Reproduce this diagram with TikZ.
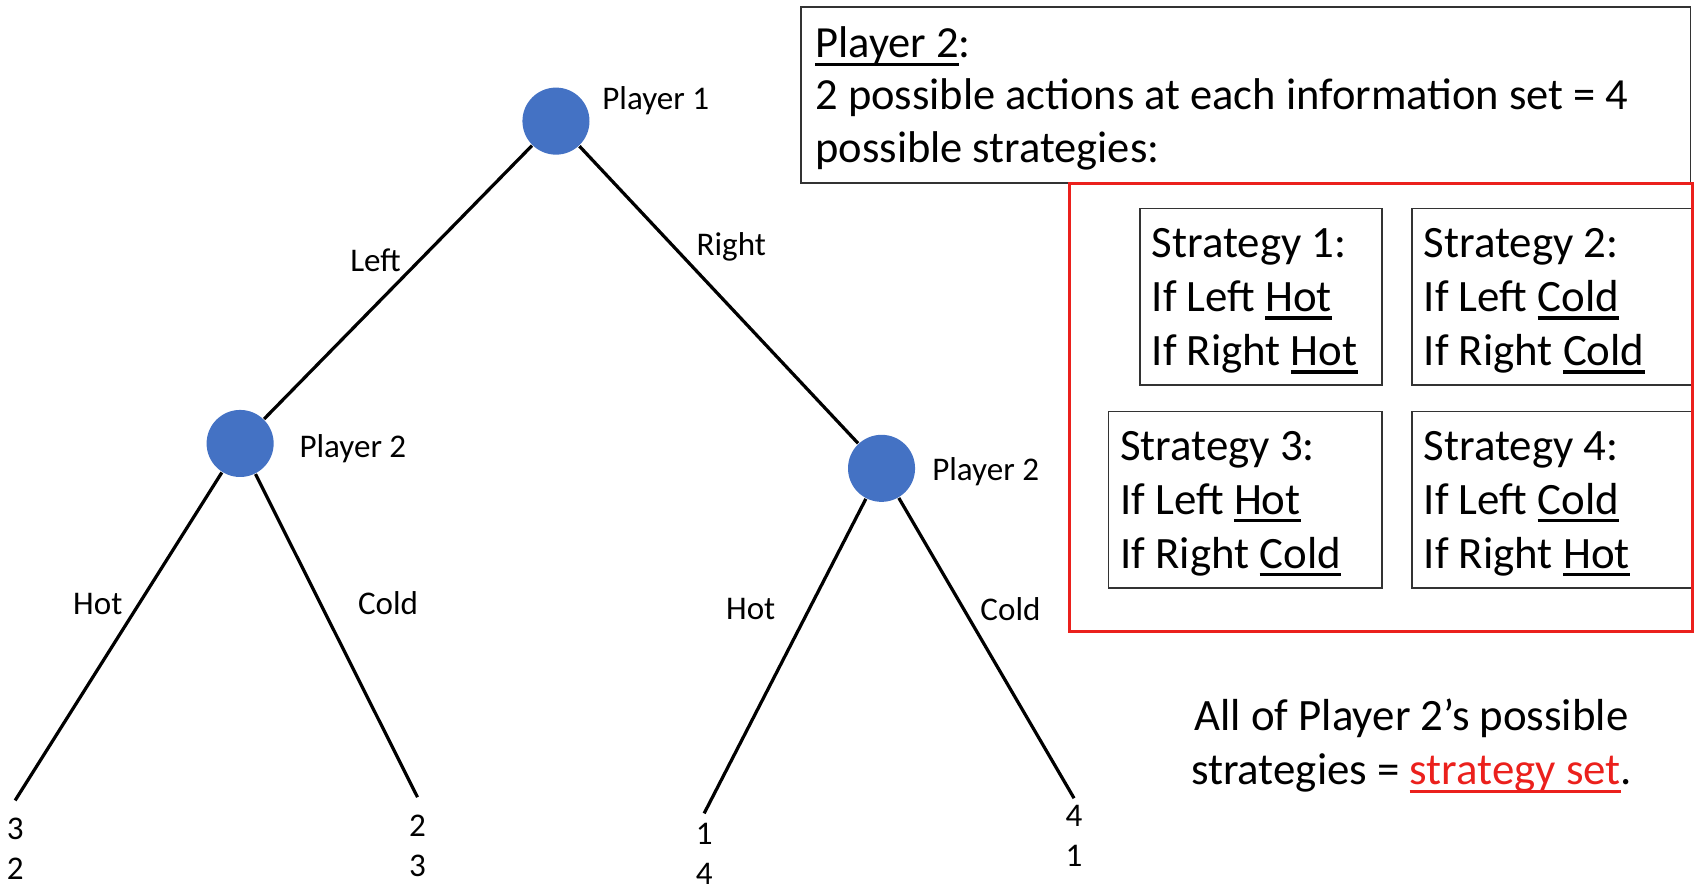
\documentclass[tikz,border=0pt]{standalone}
\usepackage{fontspec}
\setmainfont{Carlito}
\usetikzlibrary{positioning}
\definecolor{nodeblue}{RGB}{68,114,196}
\definecolor{setred}{RGB}{235,32,28}
% underline drawn as a rule under the word
\newcommand{\uln}[1]{\setbox0\hbox{#1}\rlap{\vrule height -1.4pt depth 2.2pt width \wd0}\box0}

\begin{document}
\begin{tikzpicture}[
        player/.style={circle, fill=nodeblue, minimum size=6.2mm, inner sep=0pt},
        lbl/.style={font=\fontsize{8.7}{10.5}\selectfont, inner sep=1pt},
        payoff/.style={font=\fontsize{8.7}{10.5}\selectfont, align=center, inner sep=1pt},
        branch/.style={line width=0.85pt},
        infobox/.style={draw=black!80, line width=0.5pt, align=flush left, anchor=north west,
            font=\fontsize{11.7}{13.8}\selectfont, inner xsep=0.13cm, inner ysep=0pt},
        stratbox/.style={draw=black!80, line width=0.45pt, align=flush left, anchor=north west,
            font=\fontsize{11.8}{14.2}\selectfont, inner xsep=0.11cm, inner ysep=0pt,
            text height=0.45cm, text depth=1.18cm}
    ]
        \useasboundingbox (0,0) rectangle (15.68,-8.21);

        % game tree
        \node [player] (p1) at (5.14,-1.12) {};
        \node [player] (p2l) at (2.22,-4.10) {};
        \node [player] (p2r) at (8.15,-4.33) {};
        \node [lbl, right=0.07cm of p1.east, yshift=0.19cm] (p1lbl) {Player 1};
        \node [lbl, right=0.19cm of p2l.east, yshift=-0.05cm] (p2llbl) {Player 2};
        \node [lbl, right=0.11cm of p2r.east, yshift=-0.03cm] (p2rlbl) {Player 2};

        \coordinate (l1) at (0.14,-7.40);
        \coordinate (l2) at (3.86,-7.37);
        \coordinate (l3) at (6.51,-7.52);
        \coordinate (l4) at (9.93,-7.38);

        \draw [branch] (p1) -- node[lbl, pos=.42, left=3.5pt] {Left} (p2l);
        \draw [branch] (p1) -- node[lbl, pos=.34, right=4.5pt] {Right} (p2r);
        \draw [branch] (p2l) -- node[lbl, pos=.40, left=3pt] {Hot} (l1);
        \draw [branch] (p2l) -- node[lbl, pos=.40, right=8.5pt] {Cold} (l2);
        \draw [branch] (p2r) -- node[lbl, pos=.35, left=7.5pt] {Hot} (l3);
        \draw [branch] (p2r) -- node[lbl, pos=.37, right=3pt] {Cold} (l4);

        \node [payoff, below=0.12cm of l1] (u1) {3\\2};
        \node [payoff, below=0.12cm of l2] (u2) {2\\3};
        \node [payoff, below=0.05cm of l3] (u3) {1\\4};
        \node [payoff, below=0.02cm of l4] (u4) {4\\1};

        % strategies of player 2
        \node [infobox, text width=7.96cm, text height=0.46cm, text depth=1.16cm] (info) at (7.40,-0.06)
            {\uln{Player 2}:\\2 possible actions at each information set = 4\\possible strategies:};
        \node [stratbox, text width=2.02cm] (s1) at (10.53,-1.92)
            {Strategy 1:\\If Left \uln{Hot}\\If Right \uln{Hot}};
        \node [stratbox, text width=2.37cm, right=0.26cm of s1.north east, anchor=north west] (s2)
            {Strategy 2:\\If Left \uln{Cold}\\If Right \uln{Cold}};
        \node [stratbox, text width=2.31cm, below=0.23cm of s1.south east, anchor=north east] (s3)
            {Strategy 3:\\If Left \uln{Hot}\\If Right \uln{Cold}};
        \node [stratbox, text width=2.38cm, below=0.23cm of s2.south west, anchor=north west] (s4)
            {Strategy 4:\\If Left \uln{Cold}\\If Right \uln{Hot}};
        \node [draw=setred, line width=0.85pt, anchor=north west, minimum width=5.76cm,
            minimum height=4.14cm] (stratset) at (9.87,-1.68) {};

        \node [font=\fontsize{11.8}{14.2}\selectfont, align=center] (concl) at (13.05,-6.90)
            {All of Player 2's possible\\strategies = {\color{setred}\uln{strategy set}}.};
\end{tikzpicture}
\end{document}
